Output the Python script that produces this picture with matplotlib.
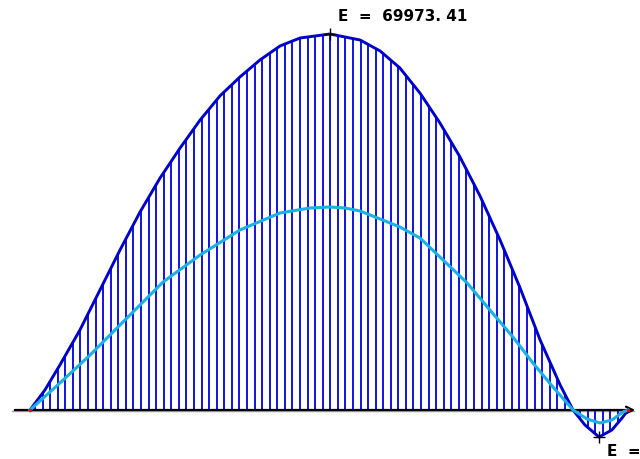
import matplotlib
matplotlib.use("Agg")
import matplotlib.pyplot as plt
import numpy as np

# stations along the member (m) and moment values for the envelope curve
x_env = [0.00, 0.50, 1.00, 1.67, 2.34, 3.01, 3.68, 4.35, 5.02, 5.69, 6.35,
         7.02, 7.69, 8.36, 9.03, 10.03, 11.04, 11.71, 12.37, 13.04, 13.71,
         14.38, 15.05, 15.72, 16.39, 17.06, 17.73, 18.16, 18.56, 19.03,
         19.46, 19.80, 20.00]
m_env = [0, 3722, 8374, 14888, 22332, 29776, 36848, 43175, 48758, 53969,
         58435, 61971, 65135, 67740, 69229, 69973.41, 68857, 66810, 63646,
         58994, 53411, 47083, 39825, 31637, 22704, 13027, 4653, 0, -2792,
         -5024.76, -3722, -1489, 0]

# second (lighter) curve
x_sec = [0.00, 1.00, 2.01, 3.11, 4.45, 5.69, 7.02, 8.36, 9.36, 10.03, 10.54,
         11.04, 11.71, 12.37, 13.04, 13.71, 14.62, 15.38, 16.15, 16.82,
         17.49, 18.16, 18.63, 19.06, 19.46, 19.83, 20.00]
m_sec = [0, 5025, 10236, 16377, 23821, 28846, 33498, 36662, 37592, 37778,
         37592, 37034, 35545, 34056, 32009, 28473, 23635, 18610, 13585, 8747,
         4280, 0, -1675, -2419, -1861, -372, 0]

x_env = np.array(x_env)
m_env = np.array(m_env)

fig = plt.figure(figsize=(6.4, 4.59), dpi=100)
ax = fig.add_axes([0, 0, 1, 1])
ax.set_xlim(-1.003, 20.40)
ax.set_ylim(-9119, 76301)
ax.axis("off")

# hatching under the envelope
hx = np.arange(0.17, 20.0, 0.2531)
hy = np.interp(hx, x_env, m_env)
ax.vlines(hx, 0, hy, color="#0000e0", lw=1.3, zorder=2)

# base line with arrow
ax.plot([-0.6, 20.2], [-190, -190], color="#a0a0a0", lw=1.0, zorder=1)
ax.annotate("", xy=(20.33, 0), xytext=(-0.6, 0),
            arrowprops=dict(arrowstyle="->", color="black", lw=1.6,
                            mutation_scale=12), zorder=3)

ax.plot(x_env, m_env, color="#0000cc", lw=2.1, zorder=4)
ax.plot(x_sec, m_sec, color="#1ab2e6", lw=2.2, zorder=5)
ax.plot([x_env[0], x_env[-1]], [0, 0], "o", color="red", ms=1.5, zorder=6)

# extreme values
i_max = int(np.argmax(m_env))
i_min = int(np.argmin(m_env))
for i, dy in [(i_max, 13), (i_min, -19)]:
    ax.plot(x_env[i], m_env[i], "+", color="black", ms=8, mew=1.0, zorder=7)
    label = f"E  =  {m_env[i]:.2f}".replace(".", ". ")
    ax.annotate(label, (x_env[i], m_env[i]), xytext=(8, dy),
                textcoords="offset pixels", fontsize=11, fontweight="bold",
                family="DejaVu Sans", va="baseline", ha="left", zorder=8)

fig.savefig("out.png", dpi=100)
